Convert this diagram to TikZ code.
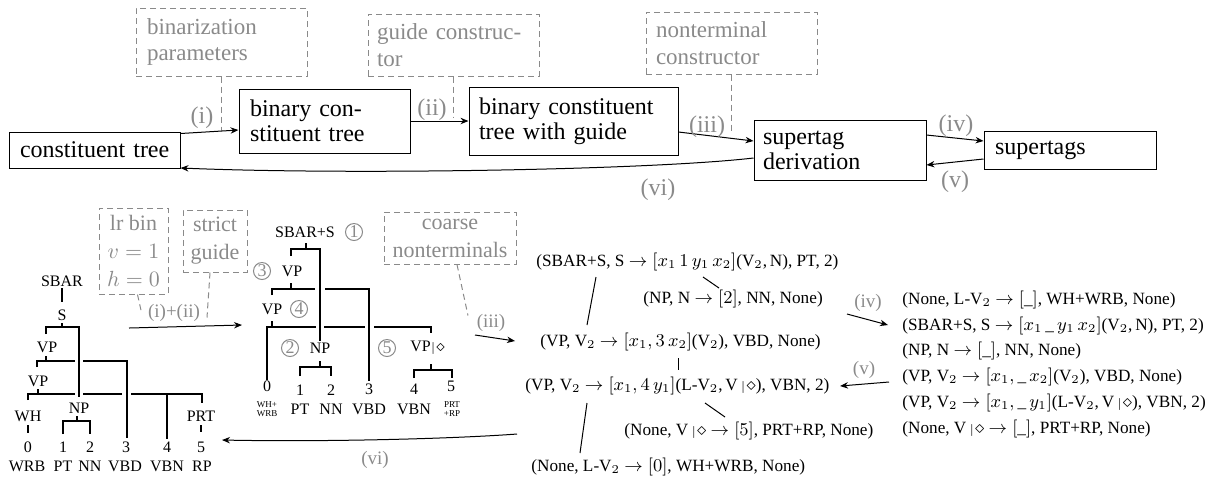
\documentclass[tikz,border=0pt]{standalone}
\usepackage{fontspec}
\setmainfont{Liberation Serif}
\usetikzlibrary{arrows.meta}
\definecolor{notegray}{RGB}{138,138,138}
\newcommand{\mrk}{$\,{\scriptstyle|}\mkern1mu{\diamond}$}
\newcommand{\mrkt}{${\scriptstyle|}\mkern1mu{\diamond}$}
\newcommand{\topfont}{\fontsize{12}{12.5}\selectfont}
\newcommand{\notefont}{\fontsize{11.5}{13.3}\selectfont}
\newcommand{\lnotefont}{\fontsize{11}{14}\selectfont}
\newcommand{\treefont}{\fontsize{8}{9.6}\selectfont}
\newcommand{\derfont}{\fontsize{8.6}{10.5}\selectfont}
\newcommand{\lblfont}{\fontsize{12}{14}\selectfont}
\newcommand{\llblfont}{\fontsize{9.5}{11}\selectfont}
\newcommand{\tinyfont}{\fontsize{4.5}{4.5}\selectfont}
\begin{document}
\begin{tikzpicture}[x=0.5pt,y=-0.5pt,
  box/.style={draw, line width=0.5pt, inner ysep=0pt, align=left, font=\topfont},
  note/.style={draw=notegray, dash pattern=on 3pt off 2pt, line width=0.5pt, text=notegray, font=\notefont, inner ysep=0pt, align=left},
  lnote/.style={draw=notegray, dash pattern=on 3pt off 2pt, line width=0.5pt, text=notegray, font=\lnotefont, inner sep=0pt, align=center},
  noteline/.style={draw=notegray, dash pattern=on 3pt off 2pt, line width=0.5pt},
  arr/.style={line width=0.5pt, -{Stealth[length=4pt,width=3.2pt,inset=1.3pt]}},
  lbl/.style={text=notegray, font=\lblfont, inner sep=0pt},
  llbl/.style={text=notegray, font=\llblfont, inner sep=0pt},
  tn/.style={font=\treefont, inner sep=0pt},
  tiny/.style={font=\tinyfont, inner sep=0pt, align=center},
  tl/.style={line width=0.85pt},
  dl/.style={line width=0.5pt},
  der/.style={font=\derfont, inner sep=0pt, anchor=west},
  cnum/.style={circle, draw=notegray, text=notegray, line width=0.5pt, inner sep=0pt, minimum size=8.5pt, font=\fontsize{9}{9}\selectfont}
]
\useasboundingbox (0,0) rectangle (1208,479);

% ---------------- top row ----------------
\node[box, inner xsep=5.5pt, text width=74.5pt, minimum height=18pt] (ct) at (94.5,150) {\mbox{constituent tree}};
\node[box, inner xsep=5.5pt, text width=74.5pt, minimum height=32pt] (bin) at (324.5,121) {binary con-\\stituent tree};
\node[box, inner xsep=5pt, text width=94.5pt, minimum height=34pt] (gd) at (573.5,121) {\mbox{binary constituent}\\tree with guide};
\node[box, inner xsep=4.5pt, text width=77pt, minimum height=30pt] (sd) at (840,150) {supertag\\derivation};
\node[box, inner xsep=5.5pt, text width=75pt, minimum height=19pt] (st) at (1070,150) {\mbox{supertags}};

\node[note, inner xsep=5.5pt, text width=74.5pt, minimum height=34pt] (bp) at (221.5,42) {binarization\\parameters};
\node[note, inner xsep=4.5pt, text width=76.5pt, minimum height=31pt] (gc) at (453.5,45) {\mbox{guide construc-}\\tor};
\node[note, inner xsep=5pt, text width=75.5pt, minimum height=31pt] (nc) at (731.5,43) {nonterminal\\constructor};

\draw[noteline] (bp.south) -- ++(0,54);
\draw[noteline] (gc.south) -- ++(0,41);
\draw[noteline] (nc.south) -- ++(0,56);

\draw[arr] ([yshift=-1pt]ct.north east) -- ([yshift=-4.5pt]bin.west);
\draw[arr] (bin.east) -- (gd.west);
\draw[arr] ([yshift=-5.5pt]gd.east) -- ([yshift=4.5pt]sd.west);
\draw[arr] ([yshift=7.5pt]sd.east) -- ([yshift=4.5pt]st.west);
\draw[arr] ([yshift=-4.5pt]st.west) -- ([yshift=-7.5pt]sd.east);
\draw[arr] ([yshift=-4pt]sd.west) .. controls (650,170) and (350,175) .. ([yshift=-9pt]ct.east);

\node[lbl] (l1) at (202,118) {(i)};
\node[lbl] (l2) at (432,110) {(ii)};
\node[lbl] (l3) at (707,127) {(iii)};
\node[lbl] (l4) at (956,126) {(iv)};
\node[lbl] (l5) at (955,182) {(v)};
\node[lbl] (l6) at (658,190) {(vi)};

% ---------------- lower notes ----------------
\node[lnote, minimum width=34.5pt, minimum height=43pt] (lr) at (133.5,251) {lr bin\\$v=1$\\$h=0$};
\node[lnote, minimum width=32pt, minimum height=31pt] (sg) at (215,241) {strict\\guide};
\node[lnote, minimum width=66pt, minimum height=26pt] (cn) at (450,238) {coarse\\nonterminals};

\draw[noteline] ([xshift=2pt]lr.south) -- ++(4,18);
\draw[noteline] ([xshift=-2.5pt]sg.south) -- ++(-3,45);
\draw[noteline] ([xshift=3.5pt]cn.south) -- ++(11,51);

\node[llbl] (l12) at (174,313) {(i)+(ii)};
\node[llbl] (l3b) at (491,323) {(iii)};
\node[llbl] (l4b) at (868,303) {(iv)};
\node[llbl] (l5b) at (864,370) {(v)};
\node[llbl] (l6b) at (375,460) {(vi)};

% ---------------- left tree ----------------
\node[tn] (ls) at (62,281) {SBAR};
\node[tn] (lS) at (62,315) {S};
\node[tn] (lvp1) at (47,347) {VP};
\node[tn] (lvp2) at (38,381) {VP};
\node[tn] (lwh) at (28,416) {WH};
\node[tn] (lnp) at (79,408) {NP};
\node[tn] (lprt) at (201,416) {PRT};
\node[tn] (ln0) at (28,447) {0};
\node[tn] (ln1) at (63,447) {1};
\node[tn] (ln2) at (90,447) {2};
\node[tn] (ln3) at (126,447) {3};
\node[tn] (ln4) at (167,447) {4};
\node[tn] (ln5) at (201,447) {5};
\node[tn] (lt0) at (27,466) {WRB};
\node[tn] (lt1) at (63,466) {PT};
\node[tn] (lt2) at (90,466) {NN};
\node[tn] (lt3) at (125,466) {VBD};
\node[tn] (lt4) at (167,466) {VBN};
\node[tn] (lt5) at (202,466) {RP};

\draw[tl] (62,288) -- (62,302);
\draw[tl] (62,323) -- (62,327);
\draw[tl] (46,334) -- (46,327) -- (79,327) -- (79,397);
\draw[tl] (46,356) -- (46,361);
\draw[tl] (37,367) -- (37,361) -- (75,361);
\draw[tl] (83,361) -- (127,361) -- (127,438);
\draw[tl] (38,389) -- (38,394);
\draw[tl] (28,400) -- (28,394) -- (75,394);
\draw[tl] (83,394) -- (122,394);
\draw[tl] (131,394) -- (202,394) -- (202,403);
\draw[tl] (167,394) -- (167,439);
\draw[tl] (28,425) -- (28,433);
\draw[tl] (77,416) -- (77,421);
\draw[tl] (63,434) -- (63,421) -- (90,421) -- (90,434);
\draw[tl] (201,425) -- (201,432);

% ---------------- middle tree ----------------
\node[tn] (mroot) at (305,232) {SBAR+S};
\node[cnum] (c1) at (354,232) {1};
\node[tn] (mvp1) at (292,271) {VP};
\node[cnum] (c3) at (262,271) {3};
\node[tn] (mvp2) at (272,309) {VP};
\node[cnum] (c4) at (299,309) {4};
\node[tn] (mnp) at (320,348) {NP};
\node[cnum] (c2) at (290,348) {2};
\node[tn, anchor=west] (mvpd) at (410,348) {VP\mrkt};
\node[cnum] (c5) at (387,348) {5};
\node[tn] (mn0) at (267,386) {0};
\node[tn] (mn1) at (300,390) {1};
\node[tn] (mn2) at (331,390) {2};
\node[tn] (mn3) at (369,389) {3};
\node[tn] (mn4) at (414,389) {4};
\node[tn] (mn5) at (451,386) {5};
\node[tiny] (mt0) at (267,409) {WH+\\WRB};
\node[tn] (mt1) at (300,409) {PT};
\node[tn] (mt2) at (331,409) {NN};
\node[tn] (mt3) at (369,409) {VBD};
\node[tn] (mt4) at (414,409) {VBN};
\node[tiny] (mt5) at (452,409) {PRT\\+RP};

\draw[tl] (306,243) -- (306,249);
\draw[tl] (291,256) -- (291,249) -- (320,249) -- (320,341);
\draw[tl] (291,283) -- (291,289);
\draw[tl] (272,295) -- (272,289) -- (315,289);
\draw[tl] (325,289) -- (369,289) -- (369,381);
\draw[tl] (272,321) -- (272,327);
\draw[tl] (267,380) -- (267,327) -- (316,327);
\draw[tl] (324,327) -- (365,327);
\draw[tl] (374,327) -- (431,327) -- (431,333);
\draw[tl] (320,361) -- (320,367);
\draw[tl] (300,376) -- (300,367) -- (331,367) -- (331,376);
\draw[tl] (431,364) -- (431,370);
\draw[tl] (414,378) -- (414,370) -- (452,370) -- (452,378);

% ---------------- derivation ----------------
\node[der] (d1) at (536,262) {(SBAR+S, S $\rightarrow [x_1\,1\,y_1\,x_2]$(V$_2$,\,N), PT, 2)};
\node[der] (d2) at (643,299) {(NP, N $\rightarrow [2]$, NN, None)};
\node[der] (d3) at (540,342) {(VP, V$_2$ $\rightarrow [x_1, 3\,x_2]$(V$_2$), VBD, None)};
\node[der] (d4) at (525,386) {(VP, V$_2$ $\rightarrow [x_1, 4\,y_1]$(L-V$_2$,\,V\mrk), VBN, 2)};
\node[der] (d5) at (624,431) {(None, V\mrk{} $\rightarrow [5]$, PRT+RP, None)};
\node[der] (d6) at (531,467) {(None, L-V$_2$ $\rightarrow [0]$, WH+WRB, None)};

\draw[dl] (596,277) -- (587,325);
\draw[dl] (703,277) -- (719,288);
\draw[dl] (678,358) -- (678,370);
\draw[dl] (705,403) -- (725,417);
\draw[dl] (587,403) -- (580,453);

% ---------------- supertags list ----------------
\node[der] (s1) at (902,300) {(None, L-V$_2$ $\rightarrow [\_]$, WH+WRB, None)};
\node[der] (s2) at (902,325.5) {(SBAR+S, S $\rightarrow [x_1\,\_\,y_1\,x_2]$(V$_2$,\,N), PT, 2)};
\node[der] (s3) at (902,351) {(NP, N $\rightarrow [\_]$, NN, None)};
\node[der] (s4) at (902,377) {(VP, V$_2$ $\rightarrow [x_1, \_\,x_2]$(V$_2$), VBD, None)};
\node[der] (s5) at (902,403) {(VP, V$_2$ $\rightarrow [x_1, \_\,y_1]$(L-V$_2$,\,V\mrk), VBN, 2)};
\node[der] (s6) at (902,428.5) {(None, V\mrk{} $\rightarrow [\_]$, PRT+RP, None)};

% ---------------- lower arrows ----------------
\coordinate (a1s) at (129,328); \coordinate (a1e) at (242,325);
\coordinate (a3s) at (475,335); \coordinate (a3e) at (515,341);
\coordinate (a4s) at (847,314); \coordinate (a4e) at (888,325);
\coordinate (a5s) at (889,382); \coordinate (a5e) at (840,386);
\coordinate (a6s) at (517,434); \coordinate (a6e) at (222,440);
\draw[arr] (a1s) -- (a1e);
\draw[arr] (a3s) -- (a3e);
\draw[arr] (a4s) -- (a4e);
\draw[arr] (a5s) -- (a5e);
\draw[arr] (a6s) .. controls (450,439) and (320,442) .. (a6e);
\end{tikzpicture}
\end{document}
